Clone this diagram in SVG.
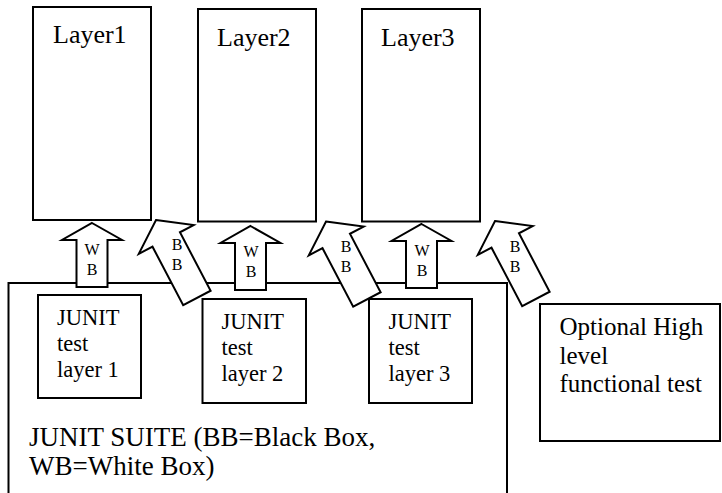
<svg xmlns="http://www.w3.org/2000/svg" width="722" height="493" viewBox="0 0 722 493">
<defs>
<style>
.box{fill:#fff;stroke:#000;stroke-width:2}
.arr{fill:#fff;stroke:#000;stroke-width:2;stroke-linejoin:miter}
text{font-family:"Liberation Serif","Times New Roman",serif;fill:#000}
.lay{font-size:26px}
.jt{font-size:22.5px}
.opt{font-size:25px}
.big{font-size:27px}
.lbl{font-size:16px;text-anchor:middle}
</style>
<polygon id="wb" class="arr" points="0,0 30,17 15.5,17 15.5,64 -15.5,64 -15.5,17 -30,17"/>
<polygon id="bb" class="arr" points="0,0 31,22 15.5,22 15.5,88 -15.5,88 -15.5,22 -31,22"/>
</defs>
<rect width="722" height="493" fill="#fff"/>

<g id="layer1"><rect class="box" x="33" y="7" width="118" height="213"/><text class="lay" x="53" y="43">Layer1</text></g>
<g id="layer2"><rect class="box" x="198" y="9" width="118" height="212.5"/><text class="lay" x="217" y="45.5">Layer2</text></g>
<g id="layer3"><rect class="box" x="362" y="9" width="118" height="212.5"/><text class="lay" x="381" y="45.5">Layer3</text></g>

<g id="suite"><rect class="box" x="8.5" y="283" width="498.5" height="230"/>
<text class="big" x="29" y="446">JUNIT SUITE (BB=Black Box,</text>
<text class="big" x="29" y="475">WB=White Box)</text></g>

<g id="connectors">
<use href="#wb" x="92" y="223"/>
<use href="#wb" x="250.5" y="226"/>
<use href="#wb" x="421.5" y="224"/>
<use href="#bb" transform="translate(156 220) rotate(-27.7)"/>
<use href="#bb" transform="translate(326 221.5) rotate(-27.7)"/>
<use href="#bb" transform="translate(495 221) rotate(-27.7)"/>
<text class="lbl" x="92" y="254.5">W</text><text class="lbl" x="92" y="274.5">B</text>
<text class="lbl" x="251" y="257">W</text><text class="lbl" x="251" y="277">B</text>
<text class="lbl" x="422" y="256">W</text><text class="lbl" x="422" y="276">B</text>
<text class="lbl" x="177" y="250">B</text><text class="lbl" x="177" y="270">B</text>
<text class="lbl" x="346" y="251.5">B</text><text class="lbl" x="346" y="271.5">B</text>
<text class="lbl" x="515" y="251.5">B</text><text class="lbl" x="515" y="271.5">B</text>
</g>

<g id="junit1"><rect class="box" x="38" y="295" width="103" height="103"/>
<text class="jt" x="57" y="325">JUNIT</text><text class="jt" x="57" y="350.5">test</text><text class="jt" x="57" y="376.5">layer 1</text></g>
<g id="junit2"><rect class="box" x="202.5" y="299" width="103.5" height="104"/>
<text class="jt" x="221.5" y="329">JUNIT</text><text class="jt" x="221.5" y="354.5">test</text><text class="jt" x="221.5" y="380.5">layer 2</text></g>
<g id="junit3"><rect class="box" x="369" y="299" width="103" height="104"/>
<text class="jt" x="388.5" y="329">JUNIT</text><text class="jt" x="388.5" y="354.5">test</text><text class="jt" x="388.5" y="380.5">layer 3</text></g>

<g id="optional"><rect class="box" x="540" y="304" width="180" height="137"/>
<text class="opt" x="559.5" y="335">Optional High</text><text class="opt" x="559.5" y="363.5">level</text><text class="opt" x="559.5" y="391.5">functional test</text></g>
</svg>
